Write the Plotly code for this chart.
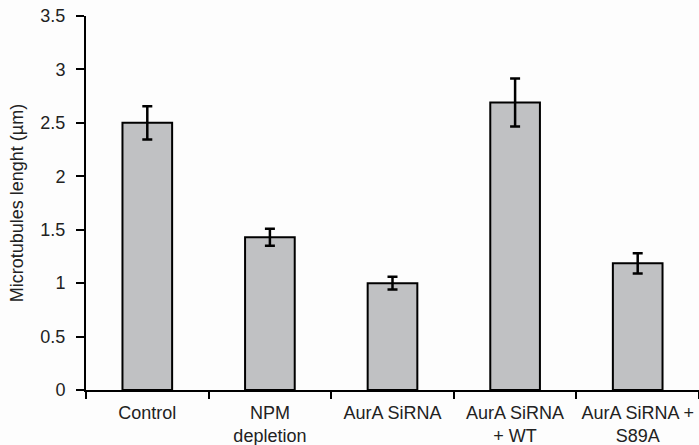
import plotly.graph_objects as go

categories = ["Control", "NPM<br>depletion", "AurA SiRNA", "AurA SiRNA<br>+ WT", "AurA SiRNA +<br>S89A"]
values = [2.50, 1.43, 1.00, 2.69, 1.185]
errors = [0.155, 0.08, 0.06, 0.225, 0.095]
y_ticks = [0, 0.5, 1, 1.5, 2, 2.5, 3, 3.5]
y_tick_labels = ["0", "0.5", "1", "1.5", "2", "2.5", "3", "3.5"]

FONT = "Liberation Sans, Arial, sans-serif"
TXT = "#222222"

fig = go.Figure(go.Bar(
    x=categories, y=values,
    width=0.405,
    marker=dict(color="#c0c1c3", line=dict(color="#000000", width=2)),
    error_y=dict(type="data", array=errors, visible=True,
                 color="#000000", thickness=2.5, width=5),
))

fig.update_layout(
    width=699, height=445,
    margin=dict(l=86, r=0, t=16, b=55),
    paper_bgcolor="#fdfdfd", plot_bgcolor="#fdfdfd",
    showlegend=False,
    font=dict(family=FONT, size=18, color=TXT),
)
fig.update_xaxes(
    range=[-0.5, 4.5],
    showline=True, linecolor="#000000", linewidth=2,
    ticks="outside", tickson="boundaries", ticklen=7, tickwidth=2, tickcolor="#000000",
    ticklabelstandoff=5,
    showgrid=False, zeroline=False,
    tickfont=dict(family=FONT, size=18, color=TXT),
    automargin=False,
)
fig.update_yaxes(
    range=[0, 3.5],
    tickvals=y_ticks, ticktext=y_tick_labels,
    showline=True, linecolor="#000000", linewidth=2,
    ticks="outside", ticklen=8, tickwidth=2, tickcolor="#000000",
    ticklabelstandoff=7,
    showgrid=False, zeroline=False,
    tickfont=dict(family=FONT, size=18, color=TXT),
    title=dict(text="Microtubules lenght (µm)", font=dict(family=FONT, size=18, color=TXT), standoff=12),
    automargin=False,
)

fig.write_html("out.html", config={"displayModeBar": False},
               post_script="document.body.style.margin='0';document.body.style.background='#fdfdfd';")
